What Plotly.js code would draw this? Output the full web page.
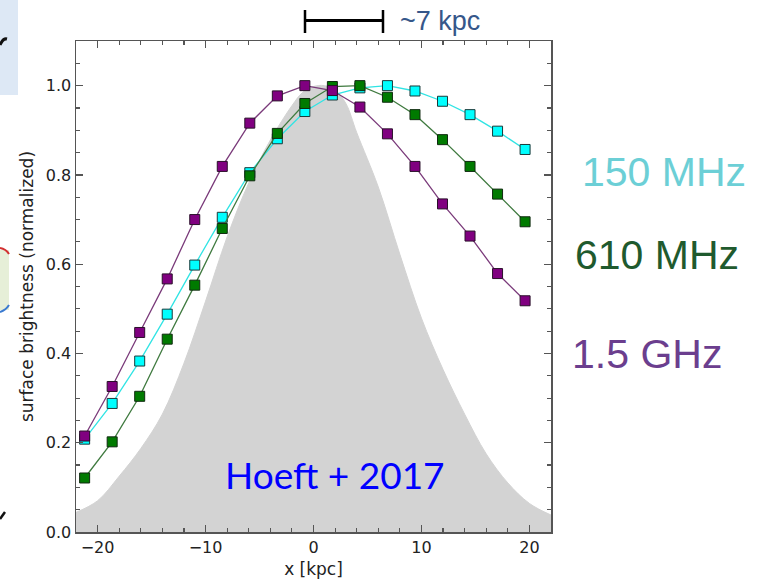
<!DOCTYPE html>
<html>
<head>
<meta charset="utf-8">
<script src="https://cdn.plot.ly/plotly-3.0.1.min.js"></script>
<style>html,body{margin:0;padding:0;background:#fff;}#chart{width:764px;height:581px;}</style>
</head>
<body>
<div id="chart"></div>
<script>
// Marker positions along the profile [kpc]
const xPos = [-21.2, -18.65, -16.1, -13.55, -11.0, -8.45, -5.9, -3.35, -0.8, 1.75, 4.3, 6.85, 9.4, 11.95, 14.5, 17.05, 19.6];
// Normalized surface brightness per frequency
const sb150MHz = [0.208, 0.288, 0.383, 0.488, 0.598, 0.705, 0.805, 0.881, 0.942, 0.979, 0.995, 1.000, 0.988, 0.965, 0.935, 0.898, 0.857];
const sb610MHz = [0.121, 0.202, 0.304, 0.432, 0.553, 0.680, 0.798, 0.893, 0.960, 0.998, 1.000, 0.974, 0.935, 0.879, 0.819, 0.757, 0.695];
const sb1p5GHz = [0.215, 0.326, 0.447, 0.567, 0.700, 0.819, 0.916, 0.977, 1.000, 0.989, 0.952, 0.892, 0.819, 0.735, 0.663, 0.579, 0.518];
// Grey beam-like profile
const beamX = [-22, -20, -18, -16, -14, -12, -10, -8, -6, -4, -2, -1, 0, 1, 2, 3, 4, 6, 8, 10, 12, 14, 16, 18, 20, 22];
const beamY = [0.044, 0.070, 0.125, 0.187, 0.264, 0.378, 0.517, 0.661, 0.782, 0.878, 0.955, 0.985, 0.998, 1.0, 0.99, 0.96, 0.895, 0.773, 0.622, 0.479, 0.364, 0.264, 0.175, 0.110, 0.064, 0.038];
// Labels
const seriesNames = ['150 MHz', '610 MHz', '1.5 GHz'];
const xTitle = 'x [kpc]';
const yTitle = 'surface brightness (normalized)';
const scaleLabel = '~7 kpc';
const refLabel = 'Hoeft + 2017';

// plot area in pixels: left 76, right 551, top 41, bottom 532
const L = 76, R = 551, T = 41, B = 532;
const px = v => (v - L) / (R - L);
const py = v => (B - v) / (B - T);

const traces = [
  {x: beamX, y: beamY, type: 'scatter', mode: 'lines', fill: 'tozeroy',
   fillcolor: '#d3d3d3', line: {width: 1, shape: 'spline', smoothing: 1, simplify: false, color: '#d3d3d3'},
   hoverinfo: 'skip', showlegend: false},
  {x: xPos, y: sb150MHz, name: seriesNames[0], type: 'scatter', mode: 'lines+markers',
   line: {color: '#30e4e4', width: 1.3},
   marker: {symbol: 'square', size: 10, color: '#00ffff', line: {color: '#1a3a3a', width: 1}}},
  {x: xPos, y: sb610MHz, name: seriesNames[1], type: 'scatter', mode: 'lines+markers',
   line: {color: '#3f7a3f', width: 1.3},
   marker: {symbol: 'square', size: 10, color: '#007a00', line: {color: '#102a10', width: 1}}},
  {x: xPos, y: sb1p5GHz, name: seriesNames[2], type: 'scatter', mode: 'lines+markers',
   line: {color: '#7a3a7a', width: 1.3},
   marker: {symbol: 'square', size: 10, color: '#800080', line: {color: '#2a102a', width: 1}}}
];

const axisCommon = {
  showline: true, linecolor: '#555', linewidth: 1.5, mirror: 'allticks',
  ticks: 'inside', ticklen: 7, tickwidth: 1.3, tickcolor: '#555',
  showgrid: false, zeroline: false,
  tickfont: {family: 'DejaVu Sans', size: 16, color: '#222'}
};

const layout = {
  width: 764, height: 581,
  margin: {l: L, r: 764 - R, t: T, b: 581 - B, pad: 0},
  paper_bgcolor: '#fff', plot_bgcolor: '#fff',
  showlegend: false,
  xaxis: Object.assign({}, axisCommon, {
    range: [-22, 22], dtick: 10, tick0: 0,
    minor: {dtick: 2, ticks: 'inside', ticklen: 4, tickwidth: 1.1, tickcolor: '#555'},
    title: {text: xTitle, font: {family: 'DejaVu Sans', size: 17, color: '#222'}, standoff: 7}
  }),
  yaxis: Object.assign({}, axisCommon, {
    range: [0, 1.1], dtick: 0.2, tick0: 0, tickformat: '.1f',
    minor: {dtick: 0.05, ticks: 'inside', ticklen: 4, tickwidth: 1.1, tickcolor: '#555'},
    title: {text: yTitle, font: {family: 'DejaVu Sans', size: 17, color: '#222'}, standoff: 8}
  }),
  annotations: [
    {text: scaleLabel, xref: 'paper', yref: 'paper', x: px(398), y: py(21), xanchor: 'left', yanchor: 'middle',
     showarrow: false, font: {family: 'Liberation Sans', size: 27, color: '#36578a'}},
    {text: seriesNames[0], xref: 'paper', yref: 'paper', x: px(580), y: py(172), xanchor: 'left', yanchor: 'middle',
     showarrow: false, font: {family: 'Liberation Sans', size: 41, color: '#6ccfd6'}},
    {text: seriesNames[1], xref: 'paper', yref: 'paper', x: px(573), y: py(255), xanchor: 'left', yanchor: 'middle',
     showarrow: false, font: {family: 'Liberation Sans', size: 41, color: '#1f5a2e'}},
    {text: seriesNames[2], xref: 'paper', yref: 'paper', x: px(570), y: py(354), xanchor: 'left', yanchor: 'middle',
     showarrow: false, font: {family: 'Liberation Sans', size: 41, color: '#6b3e8e'}},
    {text: refLabel, xref: 'paper', yref: 'paper', x: px(335), y: py(474), xanchor: 'center', yanchor: 'middle',
     showarrow: false, font: {family: 'Lato', size: 37, color: '#0000ff'}}
  ],
  shapes: [
    // scale bar
    {type: 'line', xref: 'paper', yref: 'paper', x0: px(305), x1: px(383), y0: py(20.5), y1: py(20.5), line: {color: '#000', width: 3}},
    {type: 'line', xref: 'paper', yref: 'paper', x0: px(305), x1: px(305), y0: py(10), y1: py(33), line: {color: '#000', width: 2.5}},
    {type: 'line', xref: 'paper', yref: 'paper', x0: px(383), x1: px(383), y0: py(10), y1: py(33), line: {color: '#000', width: 2.5}},
    // slide fragments on the left edge
    {type: 'rect', xref: 'paper', yref: 'paper', x0: px(0), x1: px(18), y0: py(0), y1: py(95), fillcolor: '#dde8f5', line: {width: 0}, layer: 'below'},
    {type: 'path', xref: 'paper', yref: 'paper', path: 'M ' + px(0) + ',' + py(45) + ' Q ' + px(3) + ',' + py(38) + ' ' + px(7) + ',' + py(39),
     line: {color: '#111', width: 3}},
    {type: 'rect', xref: 'paper', yref: 'paper', x0: px(0), x1: px(9), y0: py(250), y1: py(310), fillcolor: '#e6efd8', line: {width: 0}, layer: 'below'},
    {type: 'path', xref: 'paper', yref: 'paper', path: 'M ' + px(0) + ',' + py(248) + ' Q ' + px(6) + ',' + py(249) + ' ' + px(9) + ',' + py(254),
     line: {color: '#d23030', width: 2}},
    {type: 'path', xref: 'paper', yref: 'paper', path: 'M ' + px(0) + ',' + py(312) + ' Q ' + px(6) + ',' + py(310) + ' ' + px(9) + ',' + py(305),
     line: {color: '#3a7ad0', width: 2}},
    {type: 'path', xref: 'paper', yref: 'paper', path: 'M ' + px(0) + ',' + py(519) + ' L ' + px(5) + ',' + py(512),
     line: {color: '#111', width: 2.5}}
  ]
};

Plotly.newPlot('chart', traces, layout, {staticPlot: true, displayModeBar: false});
</script>
</body>
</html>
